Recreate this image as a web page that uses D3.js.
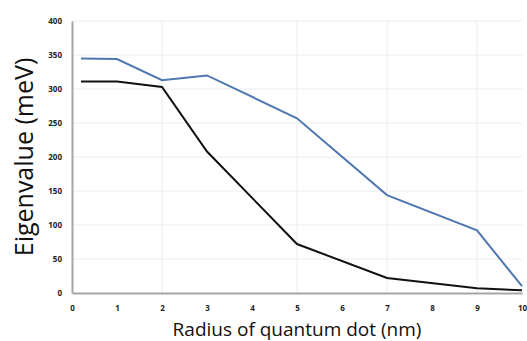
<!DOCTYPE html>
<html>
<head>
<meta charset="utf-8">
<script src="https://cdn.jsdelivr.net/npm/d3@7"></script>
<style>
  body { margin: 0; background: #fff; }
  .tick text { font-family: "Open Sans", sans-serif; font-weight: bold; font-size: 8px; fill: #222; }
  .title { font-family: "Open Sans", sans-serif; fill: #111; }
</style>
</head>
<body>
<script>
// data
var radius = [0.2, 1, 2, 3, 5, 7, 9, 10];
var upperLevel = [345, 344, 313, 320, 257, 144, 92, 10];
var lowerLevel = [311, 311, 303, 208, 72, 22, 7, 4];
var xTicks = [0, 1, 2, 3, 4, 5, 6, 7, 8, 9, 10];
var yTicks = [0, 50, 100, 150, 200, 250, 300, 350, 400];
var xGrid = [2, 5, 7, 9];

var margin = { left: 72, right: 5, top: 21, bottom: 48 },
    width = 527 - margin.left - margin.right,
    height = 341 - margin.top - margin.bottom;

var svg = d3.select("body")
    .append("svg")
    .attr("width", 527)
    .attr("height", 341);

var g = svg.append("g")
    .attr("transform", "translate(" + margin.left + "," + margin.top + ")");

var x = d3.scaleLinear().domain([0, 10]).range([0, 450]);
var y = d3.scaleLinear().domain([0, 400]).range([height, 0]);

//gridlines
g.selectAll(".hgrid")
    .data(yTicks.slice(1))
    .enter().append("line")
    .attr("x1", 0)
    .attr("x2", x(10))
    .attr("y1", function (d) { return y(d); })
    .attr("y2", function (d) { return y(d); })
    .attr("stroke", "#ececec")
    .attr("stroke-width", 1);

g.selectAll(".vgrid")
    .data(xGrid)
    .enter().append("line")
    .attr("x1", function (d) { return x(d); })
    .attr("x2", function (d) { return x(d); })
    .attr("y1", 0)
    .attr("y2", height)
    .attr("stroke", "#ececec")
    .attr("stroke-width", 1);

//axes
var xAxis = g.append("g")
    .attr("transform", "translate(0," + height + ")")
    .call(d3.axisBottom(x).tickValues(xTicks).tickSize(0).tickPadding(12));
xAxis.select(".domain").attr("stroke", "#a6a6a6").attr("stroke-width", 2);

var yAxis = g.append("g")
    .call(d3.axisLeft(y).tickValues(yTicks).tickSize(0).tickPadding(10));
yAxis.select(".domain").attr("stroke", "#a6a6a6").attr("stroke-width", 2);

//lines
var line = d3.line()
    .x(function (d) { return x(d[0]); })
    .y(function (d) { return y(d[1]); });

g.append("path")
    .datum(d3.zip(radius, lowerLevel))
    .attr("fill", "none")
    .attr("stroke", "#111")
    .attr("stroke-width", 2)
    .attr("d", line);

g.append("path")
    .datum(d3.zip(radius, upperLevel))
    .attr("fill", "none")
    .attr("stroke", "#4f77b0")
    .attr("stroke-width", 2)
    .attr("d", line);

//titles
svg.append("text")
    .attr("class", "title")
    .attr("font-size", "19px")
    .attr("text-anchor", "middle")
    .attr("x", 297)
    .attr("y", 336)
    .text("Radius of quantum dot (nm)");

svg.append("text")
    .attr("class", "title")
    .attr("font-size", "25px")
    .attr("text-anchor", "middle")
    .attr("transform", "translate(33,157) rotate(-90)")
    .text("Eigenvalue (meV)");
</script>
</body>
</html>
